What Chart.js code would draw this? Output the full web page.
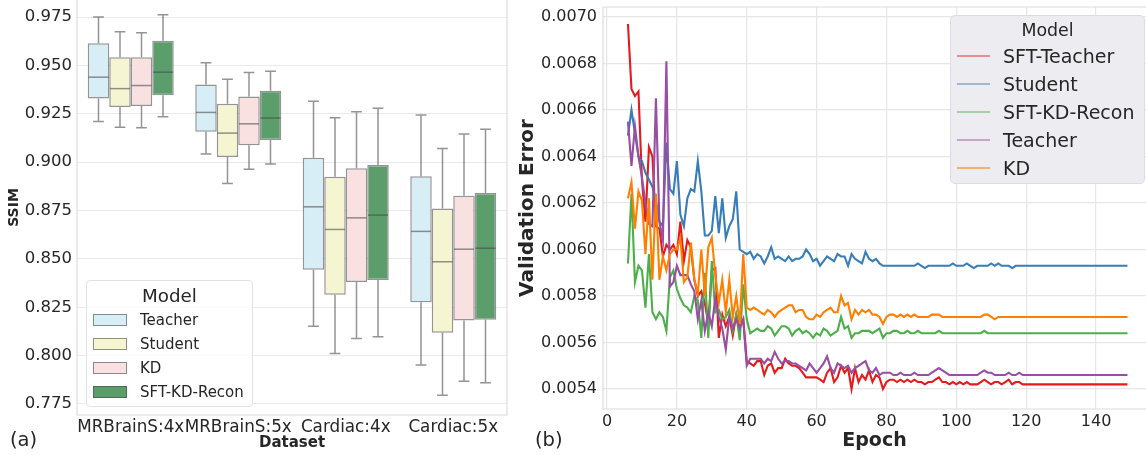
<!DOCTYPE html>
<html>
<head>
<meta charset="utf-8">
<script src="https://cdn.jsdelivr.net/npm/chart.js@4.4.1/dist/chart.umd.min.js"></script>
<style>
  html, body { margin:0; padding:0; background:#fff; }
  body { width:1146px; height:455px; position:relative; overflow:hidden; font-family:'DejaVu Sans', sans-serif; color:#262626; }
  .wrap { position:absolute; top:0; height:455px; }
  .lab { position:absolute; font-size:19.5px; line-height:23px; }
  .leg { position:absolute; box-sizing:border-box; }
  .leg div { position:absolute; white-space:nowrap; }
</style>
</head>
<body>
<div class="wrap" style="left:0;width:512px"><canvas id="ca"></canvas></div>
<div class="wrap" style="left:512px;width:634px"><canvas id="cb"></canvas></div>

<div class="lab" style="left:10px;top:428px">(a)</div>
<div class="lab" style="left:535px;top:428px">(b)</div>

<div class="leg" id="legA" style="left:86px;top:280px;width:167px;height:127px;border:1px solid #e2e2e2;border-radius:4px;background:rgba(255,255,255,0.85)"></div>
<div class="leg" id="legB" style="left:950px;top:15px;width:195px;height:169px;border:1px solid #dcdce2;border-radius:5px;background:#ececf1"></div>

<script>
// ---------------- Panel (a): SSIM box plots ----------------
const datasetLabels = ['MRBrainS:4x', 'MRBrainS:5x', 'Cardiac:4x', 'Cardiac:5x'];
const boxModels = ['Teacher', 'Student', 'KD', 'SFT-KD-Recon'];
const ssimTicks = [0.775, 0.800, 0.825, 0.850, 0.875, 0.900, 0.925, 0.950, 0.975];

const teacherLow = [0.9210, 0.9042, 0.8152, 0.7951];
const teacherQ1  = [0.9329, 0.9157, 0.8444, 0.8276];
const teacherMed = [0.9439, 0.9257, 0.8769, 0.8642];
const teacherQ3  = [0.9614, 0.9401, 0.9023, 0.8927];
const teacherHigh= [0.9750, 0.9514, 0.9315, 0.9243];

const studentLow = [0.9180, 0.8890, 0.8011, 0.7795];
const studentQ1  = [0.9285, 0.9027, 0.8315, 0.8118];
const studentMed = [0.9380, 0.9150, 0.8652, 0.8485];
const studentQ3  = [0.9542, 0.9302, 0.8924, 0.8760];
const studentHigh= [0.9674, 0.9429, 0.9229, 0.9070];

const kdLow = [0.9178, 0.8963, 0.8088, 0.7868];
const kdQ1  = [0.9290, 0.9087, 0.8381, 0.8182];
const kdMed = [0.9396, 0.9198, 0.8712, 0.8550];
const kdQ3  = [0.9542, 0.9339, 0.8968, 0.8826];
const kdHigh= [0.9669, 0.9463, 0.9260, 0.9145];

const sftLow = [0.9235, 0.8990, 0.8097, 0.7860];
const sftQ1  = [0.9346, 0.9115, 0.8391, 0.8185];
const sftMed = [0.9465, 0.9228, 0.8726, 0.8555];
const sftQ3  = [0.9628, 0.9369, 0.8985, 0.8840];
const sftHigh= [0.9762, 0.9470, 0.9279, 0.9170];

const boxFill = ['#d7eef7', '#f5f6d1', '#f9e1e2', '#5b9e6c'];
const boxEdge = 'rgba(70,70,70,0.58)';

// ---------------- Panel (b): validation error curves ----------------
const epochs = [6,7,8,9,10,11,12,13,14,15,16,17,18,19,20,21,22,23,24,25,26,27,28,29,30,31,32,33,34,35,36,37,38,39,40,41,42,43,44,45,46,47,48,49,50,51,52,53,54,55,56,57,58,59,60,61,62,63,64,65,66,67,68,69,70,71,72,73,74,75,76,77,78,79,80,81,82,83,84,85,86,87,88,89,90,91,92,93,94,95,96,97,98,99,100,101,102,103,104,105,106,107,108,109,110,111,112,113,114,115,116,117,118,119,120,121,122,123,124,125,126,127,128,129,130,131,132,133,134,135,136,137,138,139,140,141,142,143,144,145,146,147,148,149];
const epochTicks = [0, 20, 40, 60, 80, 100, 120, 140];
const errTicks = [0.0054, 0.0056, 0.0058, 0.0060, 0.0062, 0.0064, 0.0066, 0.0068, 0.0070];

const sftTeacherErr = [
0.00697,0.00669,0.00666,0.00668,0.00630,0.00612,0.00644,0.00640,0.00610,0.00609,
0.00597,0.00602,0.00600,0.00602,0.00598,0.00612,0.00595,0.00604,0.00601,0.00587,
0.00580,0.00582,0.00577,0.00568,0.00591,0.00592,0.00562,0.00572,0.00567,0.00571,
0.00563,0.00572,0.00567,0.00570,0.00552,0.00551,0.00550,0.00552,0.00552,0.00546,
0.00550,0.00551,0.00547,0.00549,0.00549,0.00553,0.00551,0.00550,0.00550,0.00549,
0.00547,0.00545,0.00545,0.00545,0.00545,0.00544,0.00543,0.00547,0.00549,0.00543,
0.00545,0.00550,0.00547,0.00549,0.00540,0.00549,0.00543,0.00546,0.00544,0.00548,
0.00543,0.00546,0.00545,0.00540,0.00543,0.00544,0.00544,0.00543,0.00544,0.00543,
0.00544,0.00543,0.00544,0.00543,0.00543,0.00542,0.00543,0.00543,0.00544,0.00545,
0.00543,0.00543,0.00542,0.00543,0.00542,0.00543,0.00542,0.00543,0.00542,0.00542,
0.00542,0.00543,0.00544,0.00543,0.00542,0.00543,0.00543,0.00542,0.00543,0.00544,
0.00542,0.00543,0.00543,0.00542,0.00542,0.00542,0.00542,0.00542,0.00542,0.00542,
0.00542,0.00542,0.00542,0.00542,0.00542,0.00542,0.00542,0.00542,0.00542,0.00542,
0.00542,0.00542,0.00542,0.00542,0.00542,0.00542,0.00542,0.00542,0.00542,0.00542,
0.00542,0.00542,0.00542,0.00542];

const studentErr = [
0.00649,0.00660,0.00650,0.00640,0.00638,0.00633,0.00630,0.00627,0.00621,0.00612,
0.00610,0.00646,0.00626,0.00624,0.00638,0.00615,0.00610,0.00622,0.00626,0.00625,
0.00638,0.00625,0.00606,0.00606,0.00608,0.00623,0.00607,0.00622,0.00605,0.00610,
0.00613,0.00625,0.00600,0.00599,0.00598,0.00599,0.00596,0.00598,0.00597,0.00594,
0.00597,0.00601,0.00596,0.00597,0.00596,0.00595,0.00597,0.00595,0.00596,0.00596,
0.00597,0.00600,0.00598,0.00595,0.00596,0.00593,0.00595,0.00597,0.00596,0.00595,
0.00598,0.00597,0.00597,0.00593,0.00598,0.00596,0.00595,0.00594,0.00599,0.00596,
0.00595,0.00596,0.00594,0.00593,0.00593,0.00593,0.00593,0.00593,0.00593,0.00593,
0.00593,0.00593,0.00593,0.00594,0.00593,0.00592,0.00593,0.00593,0.00593,0.00593,
0.00593,0.00593,0.00593,0.00594,0.00593,0.00593,0.00593,0.00594,0.00593,0.00592,
0.00593,0.00593,0.00593,0.00593,0.00594,0.00593,0.00594,0.00593,0.00593,0.00593,
0.00592,0.00593,0.00593,0.00593,0.00593,0.00593,0.00593,0.00593,0.00593,0.00593,
0.00593,0.00593,0.00593,0.00593,0.00593,0.00593,0.00593,0.00593,0.00593,0.00593,
0.00593,0.00593,0.00593,0.00593,0.00593,0.00593,0.00593,0.00593,0.00593,0.00593,
0.00593,0.00593,0.00593,0.00593];

const sftKdReconErr = [
0.00594,0.00624,0.00586,0.00593,0.00591,0.00575,0.00598,0.00573,0.00570,0.00573,
0.00571,0.00565,0.00588,0.00591,0.00583,0.00579,0.00576,0.00575,0.00573,0.00580,
0.00578,0.00562,0.00590,0.00562,0.00595,0.00573,0.00574,0.00570,0.00571,0.00574,
0.00565,0.00572,0.00561,0.00585,0.00570,0.00564,0.00565,0.00566,0.00565,0.00565,
0.00567,0.00566,0.00563,0.00565,0.00567,0.00567,0.00566,0.00563,0.00565,0.00566,
0.00564,0.00565,0.00564,0.00562,0.00564,0.00563,0.00566,0.00565,0.00563,0.00564,
0.00565,0.00571,0.00566,0.00567,0.00562,0.00564,0.00564,0.00565,0.00565,0.00565,
0.00564,0.00565,0.00566,0.00562,0.00564,0.00564,0.00565,0.00565,0.00564,0.00564,
0.00565,0.00564,0.00564,0.00565,0.00564,0.00564,0.00564,0.00564,0.00564,0.00565,
0.00564,0.00564,0.00564,0.00564,0.00564,0.00564,0.00564,0.00564,0.00564,0.00564,
0.00564,0.00564,0.00565,0.00564,0.00564,0.00564,0.00564,0.00564,0.00564,0.00564,
0.00564,0.00564,0.00564,0.00564,0.00564,0.00564,0.00564,0.00564,0.00564,0.00564,
0.00564,0.00564,0.00564,0.00564,0.00564,0.00564,0.00564,0.00564,0.00564,0.00564,
0.00564,0.00564,0.00564,0.00564,0.00564,0.00564,0.00564,0.00564,0.00564,0.00564,
0.00564,0.00564,0.00564,0.00564];

const teacherErr = [
0.00655,0.00636,0.00653,0.00640,0.00631,0.00620,0.00611,0.00610,0.00665,0.00612,
0.00604,0.00681,0.00584,0.00586,0.00593,0.00589,0.00589,0.00589,0.00585,0.00582,
0.00570,0.00578,0.00565,0.00573,0.00567,0.00579,0.00571,0.00566,0.00557,0.00571,
0.00566,0.00570,0.00566,0.00570,0.00550,0.00553,0.00553,0.00553,0.00553,0.00551,
0.00553,0.00552,0.00556,0.00553,0.00551,0.00552,0.00552,0.00551,0.00551,0.00550,
0.00549,0.00548,0.00551,0.00549,0.00547,0.00549,0.00551,0.00554,0.00549,0.00547,
0.00551,0.00550,0.00549,0.00550,0.00547,0.00549,0.00550,0.00551,0.00552,0.00548,
0.00547,0.00549,0.00546,0.00547,0.00547,0.00547,0.00546,0.00546,0.00547,0.00546,
0.00546,0.00546,0.00547,0.00546,0.00546,0.00546,0.00546,0.00547,0.00548,0.00549,
0.00548,0.00547,0.00546,0.00546,0.00546,0.00546,0.00546,0.00546,0.00546,0.00546,
0.00546,0.00547,0.00548,0.00547,0.00547,0.00546,0.00546,0.00546,0.00546,0.00547,
0.00546,0.00546,0.00547,0.00546,0.00546,0.00546,0.00546,0.00546,0.00546,0.00546,
0.00546,0.00546,0.00546,0.00546,0.00546,0.00546,0.00546,0.00546,0.00546,0.00546,
0.00546,0.00546,0.00546,0.00546,0.00546,0.00546,0.00546,0.00546,0.00546,0.00546,
0.00546,0.00546,0.00546,0.00546];

const kdErr = [
0.00622,0.00629,0.00609,0.00625,0.00621,0.00598,0.00622,0.00587,0.00624,0.00587,
0.00597,0.00591,0.00598,0.00600,0.00600,0.00605,0.00586,0.00588,0.00603,0.00587,
0.00581,0.00600,0.00580,0.00601,0.00605,0.00589,0.00577,0.00587,0.00573,0.00587,
0.00571,0.00580,0.00568,0.00598,0.00575,0.00574,0.00575,0.00574,0.00573,0.00572,
0.00574,0.00573,0.00571,0.00573,0.00574,0.00575,0.00576,0.00576,0.00573,0.00574,
0.00574,0.00571,0.00570,0.00570,0.00572,0.00571,0.00573,0.00574,0.00575,0.00573,
0.00573,0.00580,0.00576,0.00577,0.00570,0.00574,0.00572,0.00574,0.00573,0.00574,
0.00572,0.00572,0.00571,0.00568,0.00571,0.00572,0.00572,0.00571,0.00572,0.00571,
0.00572,0.00571,0.00572,0.00571,0.00571,0.00571,0.00571,0.00572,0.00572,0.00572,
0.00571,0.00571,0.00571,0.00571,0.00571,0.00571,0.00571,0.00571,0.00571,0.00571,
0.00571,0.00571,0.00572,0.00572,0.00571,0.00570,0.00571,0.00571,0.00571,0.00571,
0.00571,0.00571,0.00571,0.00571,0.00571,0.00571,0.00571,0.00571,0.00571,0.00571,
0.00571,0.00571,0.00571,0.00571,0.00571,0.00571,0.00571,0.00571,0.00571,0.00571,
0.00571,0.00571,0.00571,0.00571,0.00571,0.00571,0.00571,0.00571,0.00571,0.00571,
0.00571,0.00571,0.00571,0.00571];

const lineModels = ['SFT-Teacher', 'Student', 'SFT-KD-Recon', 'Teacher', 'KD'];
const lineColors = ['#e41a1c', '#377eb8', '#4daf4a', '#984ea3', '#ff7f00'];
const lineLegendColors = ['rgba(228,26,28,0.45)', 'rgba(55,126,184,0.45)', 'rgba(77,175,74,0.45)', 'rgba(152,78,163,0.45)', 'rgba(255,127,0,0.55)'];

// ---------------- shared setup ----------------
Chart.defaults.font.family = "'DejaVu Sans', sans-serif";
Chart.defaults.color = '#262626';

const framePlugin = {
  id: 'frame',
  beforeDatasetsDraw(chart, args, opts) {
    const { ctx, chartArea: a } = chart;
    ctx.save();
    ctx.strokeStyle = opts.color || '#d9d9d9';
    ctx.lineWidth = 1.2;
    ctx.beginPath();
    if (opts.top) { ctx.moveTo(a.left, a.top); ctx.lineTo(a.right, a.top); }
    ctx.moveTo(a.left, a.top); ctx.lineTo(a.left, a.bottom); ctx.lineTo(a.right, a.bottom);
    if (opts.right) { ctx.lineTo(a.right, a.top); }
    ctx.stroke();
    ctx.restore();
  }
};

const boxStats = [
  { lo: teacherLow, med: teacherMed, hi: teacherHigh },
  { lo: studentLow, med: studentMed, hi: studentHigh },
  { lo: kdLow, med: kdMed, hi: kdHigh },
  { lo: sftLow, med: sftMed, hi: sftHigh }
];

const whiskerPlugin = {
  id: 'whiskers',
  afterDatasetsDraw(chart) {
    const ctx = chart.ctx, y = chart.scales.y;
    chart.data.datasets.forEach((ds, di) => {
      const meta = chart.getDatasetMeta(di);
      const st = boxStats[di];
      meta.data.forEach((bar, i) => {
        const x = bar.x, w = bar.width;
        const pLo = y.getPixelForValue(st.lo[i]);
        const pHi = y.getPixelForValue(st.hi[i]);
        const pMed = y.getPixelForValue(st.med[i]);
        const pQ1 = y.getPixelForValue(ds.data[i][0]);
        const pQ3 = y.getPixelForValue(ds.data[i][1]);
        ctx.save();
        ctx.strokeStyle = boxEdge;
        ctx.lineWidth = 1.5;
        ctx.beginPath();
        ctx.moveTo(x, pQ3); ctx.lineTo(x, pHi);
        ctx.moveTo(x - w / 4, pHi); ctx.lineTo(x + w / 4, pHi);
        ctx.moveTo(x, pQ1); ctx.lineTo(x, pLo);
        ctx.moveTo(x - w / 4, pLo); ctx.lineTo(x + w / 4, pLo);
        ctx.stroke();
        ctx.beginPath();
        ctx.moveTo(x - w / 2 + 0.75, pMed); ctx.lineTo(x + w / 2 - 0.75, pMed);
        ctx.stroke();
        ctx.restore();
      });
    });
  }
};

const boxQ = [[teacherQ1, teacherQ3], [studentQ1, studentQ3], [kdQ1, kdQ3], [sftQ1, sftQ3]];

function noVPad(s) { s.paddingTop = 0; s.paddingBottom = 0; }

new Chart(document.getElementById('ca'), {
  type: 'bar',
  data: {
    labels: datasetLabels,
    datasets: boxModels.map((m, k) => ({
      label: m,
      data: boxQ[k][0].map((q1, i) => [q1, boxQ[k][1][i]]),
      backgroundColor: boxFill[k],
      borderColor: boxEdge,
      borderWidth: 1.5,
      borderSkipped: false,
      categoryPercentage: 0.8,
      barPercentage: 1.0
    }))
  },
  options: {
    responsive: true,
    maintainAspectRatio: false,
    animation: false,
    layout: { padding: { top: 0, right: 5, left: 0, bottom: 0 } },
    plugins: { legend: { display: false }, tooltip: { enabled: false }, frame: { color: '#dcdcdc', top: false, right: true } },
    scales: {
      x: {
        type: 'category',
        grid: { color: 'rgba(0,0,0,0)', drawTicks: false },
        border: { display: false },
        ticks: { autoSkip: false, maxRotation: 0, minRotation: 0, font: { size: 16.8 }, color: '#262626', padding: 3 },
        title: { display: true, text: 'Dataset', font: { size: 15, weight: 'bold' }, color: '#262626', padding: { top: 0, bottom: 3 } },
        afterFit: s => { s.height = 40; }
      },
      y: {
        min: 0.7693,
        max: 0.9838,
        afterBuildTicks: s => { s.ticks = ssimTicks.map(v => ({ value: v })); },
        afterFit: s => { s.width = 77; noVPad(s); },
        grid: { color: '#ebebeb', drawTicks: false, lineWidth: 1 },
        border: { display: false },
        ticks: { callback: v => Number(v).toFixed(3), font: { size: 16.5 }, color: '#262626', padding: 5 },
        title: { display: true, text: 'SSIM', font: { size: 14, weight: 'bold' }, color: '#262626', padding: { top: 6, bottom: 0 } }
      }
    }
  },
  plugins: [framePlugin, whiskerPlugin]
});

const lineSeries = [sftTeacherErr, studentErr, sftKdReconErr, teacherErr, kdErr];
const drawOrder = [4, 3, 2, 1, 0]; // KD drawn on top, like the reference

new Chart(document.getElementById('cb'), {
  type: 'line',
  data: {
    datasets: drawOrder.map(k => ({
      label: lineModels[k],
      data: epochs.map((e, i) => ({ x: e, y: lineSeries[k][i] })),
      borderColor: lineColors[k],
      backgroundColor: lineColors[k],
      borderWidth: 2.1,
      pointRadius: 0,
      tension: 0,
      fill: false
    }))
  },
  options: {
    responsive: true,
    maintainAspectRatio: false,
    animation: false,
    layout: { padding: { top: 7, right: 0, left: 0, bottom: 0 } },
    plugins: { legend: { display: false }, tooltip: { enabled: false }, frame: { color: '#dcdcdc', top: true, right: false } },
    scales: {
      x: {
        type: 'linear',
        min: -1.15,
        max: 154.3,
        afterBuildTicks: s => { s.ticks = epochTicks.map(v => ({ value: v })); },
        afterFit: s => { s.height = 46; },
        grid: { color: '#e6e6e6', drawTicks: false, lineWidth: 1.2 },
        border: { display: false },
        ticks: { font: { size: 16 }, color: '#262626', padding: 3 },
        title: { display: true, text: 'Epoch', font: { size: 19, weight: 'bold' }, color: '#262626', padding: { top: 0, bottom: 3 } }
      },
      y: {
        min: 0.005314,
        max: 0.007043,
        afterBuildTicks: s => { s.ticks = errTicks.map(v => ({ value: v })); },
        afterFit: s => { s.width = 91; noVPad(s); },
        grid: { color: '#e6e6e6', drawTicks: false, lineWidth: 1.2 },
        border: { display: false },
        ticks: { callback: v => Number(v).toFixed(4), font: { size: 16 }, color: '#262626', padding: 6 },
        title: { display: true, text: 'Validation Error', font: { size: 20, weight: 'bold' }, color: '#262626', padding: { top: 4, bottom: 0 } }
      }
    }
  },
  plugins: [framePlugin]
});

// ---------------- HTML legends ----------------
(function () {
  const a = document.getElementById('legA');
  let h = '<div style="left:0;top:4px;width:100%;text-align:center;font-size:18.3px;line-height:22px">Model</div>';
  const cy = [39, 63, 87, 111];
  boxModels.forEach((m, k) => {
    h += '<div style="left:6px;top:' + (cy[k] - 6) + 'px;width:34px;height:12px;box-sizing:border-box;background:' + boxFill[k] + ';border:1px solid ' + boxEdge + '"></div>';
    h += '<div style="left:53px;top:' + (cy[k] - 9) + 'px;font-size:15px;line-height:18px">' + m + '</div>';
  });
  a.innerHTML = h;

  const b = document.getElementById('legB');
  let g = '<div style="left:0;top:4px;width:100%;text-align:center;font-size:17.4px;line-height:20px">Model</div>';
  const by = [40, 68, 96, 124, 152];
  lineModels.forEach((m, k) => {
    g += '<div style="left:6px;top:' + (by[k] - 1) + 'px;width:33px;height:2px;background:' + lineLegendColors[k] + '"></div>';
    g += '<div style="left:52px;top:' + (by[k] - 11) + 'px;font-size:19px;line-height:22px">' + m + '</div>';
  });
  b.innerHTML = g;
})();
</script>
</body>
</html>
